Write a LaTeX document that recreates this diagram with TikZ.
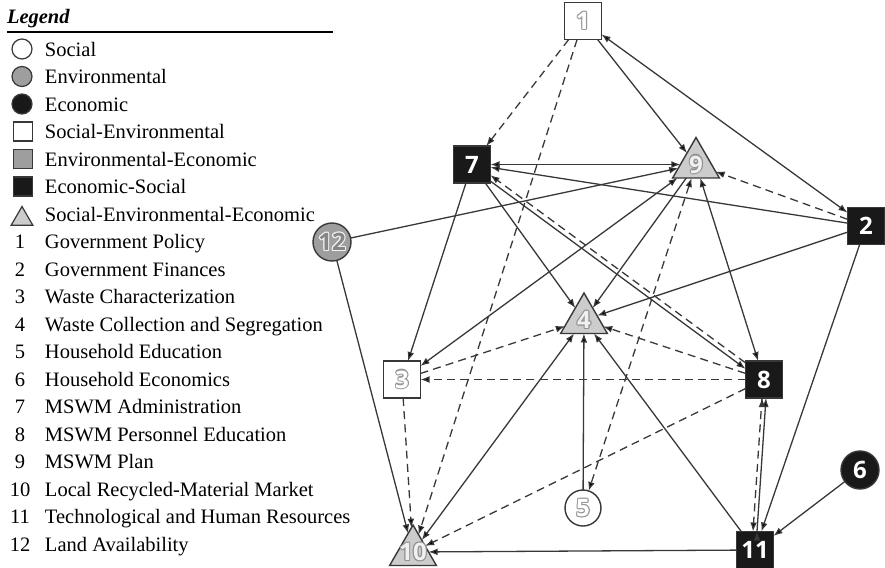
\documentclass[tikz,border=0pt]{standalone}
\usepackage{fontspec}
\setmainfont{Liberation Serif}
\newfontfamily\digitfont{Open Sans}
\usetikzlibrary{shapes.geometric,arrows.meta}

\definecolor{linegray}{gray}{0.22}
\definecolor{envgray}{gray}{0.62}
\definecolor{trigray}{gray}{0.8}
\definecolor{darkfill}{gray}{0.1}

% hollow digits: #1 rim colour, #2 inside colour, #3 text
\newcommand\ringnum[3]{%
  \rlap{\color{#1}\kern-0.55pt#3}%
  \rlap{\color{#1}\kern0.55pt#3}%
  \rlap{\color{#1}\raisebox{0.55pt}{#3}}%
  \rlap{\color{#1}\raisebox{-0.55pt}{#3}}%
  \rlap{\color{#1}\kern0.4pt\raisebox{0.4pt}{#3}}%
  \rlap{\color{#1}\kern-0.4pt\raisebox{-0.4pt}{#3}}%
  \rlap{\color{#1}\kern0.4pt\raisebox{-0.4pt}{#3}}%
  \rlap{\color{#1}\kern-0.4pt\raisebox{0.4pt}{#3}}%
  {\color{#2}#3}}

\begin{document}
\begin{tikzpicture}[x=0.5pt,y=-0.5pt,>={Latex[length=4.5pt,width=3.4pt]},
  every node/.style={inner sep=0pt,outer sep=0pt},
  txt/.style={font=\fontsize{10.25}{12}\selectfont,anchor=base west},
  idx/.style={font=\fontsize{10.25}{12}\selectfont,anchor=base},
  key/.style={draw=linegray,line width=0.6pt},
  factor/.style={draw=linegray,line width=0.7pt,font=\digitfont\bfseries\fontsize{12}{12}\selectfont},
  socenv/.style={factor,rectangle,minimum size=18.5pt,fill=white},
  ecosoc/.style={factor,rectangle,minimum size=18.5pt,fill=darkfill,text=white},
  allthree/.style={factor,regular polygon,regular polygon sides=3,minimum size=27pt,fill=trigray},
  social/.style={factor,circle,minimum size=18pt,fill=white},
  environ/.style={factor,circle,minimum size=19pt,fill=envgray},
  econ/.style={factor,circle,minimum size=19pt,fill=darkfill,text=white},
  tnum/.style={font=\digitfont\bfseries\fontsize{12}{12}\selectfont},
  link/.style={draw=linegray,line width=0.65pt},
  weak/.style={link,dash pattern=on 4pt off 2.6pt}
]
\useasboundingbox (0,0) rectangle (885,568);

% legend
\node[anchor=base west,font=\fontsize{10.25}{12}\selectfont\bfseries\itshape] (title) at (7,23) {Legend};
\draw[line width=1pt] (7,32) -- (333,32);

\node[key,circle,minimum size=10pt,fill=white] (k1) at (22,49) {};
\node[key,circle,minimum size=10pt,fill=envgray] (k2) at (22,76.5) {};
\node[key,circle,minimum size=10pt,fill=darkfill] (k3) at (22,104) {};
\node[key,minimum size=9.5pt,fill=white] (k4) at (23,131.5) {};
\node[key,minimum size=9.5pt,fill=envgray] (k5) at (23,159) {};
\node[key,minimum size=9.5pt,fill=darkfill] (k6) at (23,186.5) {};
\node[key,regular polygon,regular polygon sides=3,minimum size=12.5pt,fill=trigray] (k7) at (22,219) {};

\node[txt] (t1) at (45,56) {Social};
\node[txt] (t2) at (45,83.5) {Environmental};
\node[txt] (t3) at (45,111) {Economic};
\node[txt] (t4) at (45,138.5) {Social-Environmental};
\node[txt] (t5) at (45,166) {Environmental-Economic};
\node[txt] (t6) at (45,193.5) {Economic-Social};
\node[txt] (t7) at (45,221) {Social-Environmental-Economic};

\node[idx] (i1) at (20,248.5) {1};   \node[txt] (f1) at (45,248.5) {Government Policy};
\node[idx] (i2) at (20,276) {2};     \node[txt] (f2) at (45,276) {Government Finances};
\node[idx] (i3) at (20,303.5) {3};   \node[txt] (f3) at (45,303.5) {Waste Characterization};
\node[idx] (i4) at (20,331) {4};     \node[txt] (f4) at (45,331) {Waste Collection and Segregation};
\node[idx] (i5) at (20,358.5) {5};   \node[txt] (f5) at (45,358.5) {Household Education};
\node[idx] (i6) at (20,386) {6};     \node[txt] (f6) at (45,386) {Household Economics};
\node[idx] (i7) at (20,413.5) {7};   \node[txt] (f7) at (45,413.5) {MSWM Administration};
\node[idx] (i8) at (20,441) {8};     \node[txt] (f8) at (45,441) {MSWM Personnel Education};
\node[idx] (i9) at (20,468.5) {9};   \node[txt] (f9) at (45,468.5) {MSWM Plan};
\node[idx] (i10) at (20,496) {10};   \node[txt] (f10) at (45,496) {Local Recycled-Material Market};
\node[idx] (i11) at (20,523.5) {11}; \node[txt] (f11) at (45,523.5) {Technological and Human Resources};
\node[idx] (i12) at (20,551) {12};   \node[txt] (f12) at (45,551) {Land Availability};

% factors
\node[socenv] (n1) at (583,21) {\ringnum{gray!80}{white}{1}};
\node[ecosoc] (n2) at (866,226) {2};
\node[socenv] (n3) at (402,379.5) {\ringnum{gray!80}{white}{3}};
\node[allthree,label={[tnum]center:\ringnum{gray!85}{gray!12}{4}}] (n4) at (584,320) {};
\node[social] (n5) at (583,508) {\ringnum{gray!80}{white}{5}};
\node[econ] (n6) at (860,470) {6};
\node[ecosoc] (n7) at (472,164.5) {7};
\node[ecosoc] (n8) at (764,379.5) {8};
\node[allthree,label={[tnum]center:\ringnum{gray!85}{gray!12}{9}}] (n9) at (696,164.5) {};
\node[allthree,label={[tnum]center:\ringnum{gray!85}{gray!12}{10}}] (n10) at (413,552) {};
\node[ecosoc] (n11) at (755,550) {11};
\node[environ] (n12) at (332,242) {\ringnum{gray!10}{envgray!85!black}{12}};

% solid influences
\draw[link,->]
  (n1) edge (n9)
  (n2) edge (n7) edge (n4) edge (n11)
  (n7) edge (n3) edge (n4)
  (n7.-42) edge (n8.150)
  (n9) edge (n4)
  (n12) edge (n9) edge (n10)
  (n5) edge (n4)
  (n11) edge (n4) edge (n10)
  ([xshift=1pt]n11.north) edge ([xshift=1pt]n8.south)
  (n6) edge (n11);
\draw[link,<->]
  (n1) edge (n2)
  (n7) edge (n9)
  (n3) edge (n9)
  (n8) edge (n9)
  (n4) edge (n10);

% dashed influences
\draw[weak,->]
  (n1) edge (n7) edge (n10)
  (n2) edge (n9)
  (n8.138) edge (n7.-30)
  (n3) edge (n4) edge (n10)
  (n8) edge (n3) edge (n4) edge (n10)
  ([xshift=-1pt]n8.south) edge ([xshift=-1pt]n11.north);
\draw[weak,<->] (n9) edge (n5);
\end{tikzpicture}
\end{document}
